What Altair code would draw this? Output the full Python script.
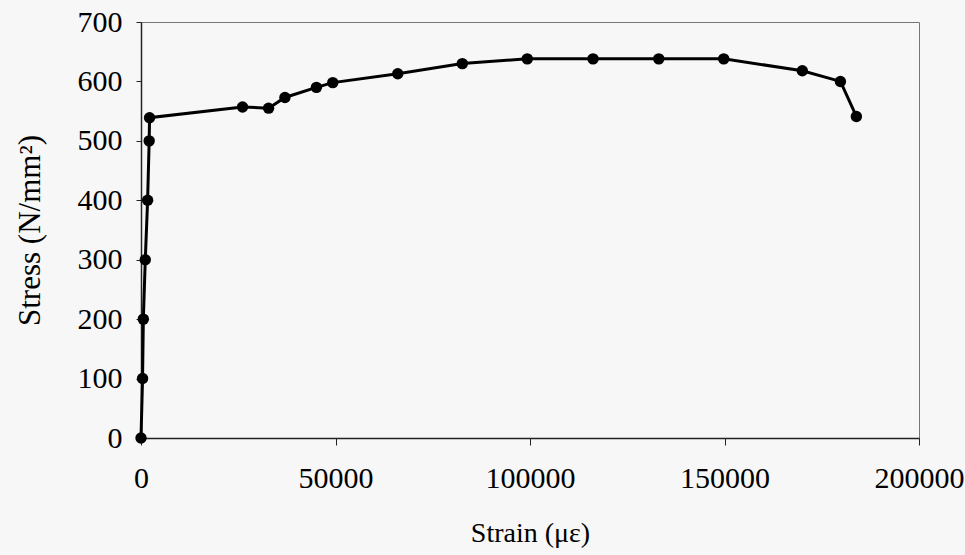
import altair as alt
import pandas as pd

strain = [0, 400, 600, 1100, 1700, 2100, 2200, 26100, 32800, 37000, 45100, 49300,
          66000, 82600, 99300, 116200, 133100, 149800, 170000, 179800, 183900]
stress = [0, 100, 200, 300, 400, 500, 539, 557, 555, 573, 590, 598,
          613, 630, 638, 638, 638, 638, 618, 600, 541]
x_ticks = [0, 50000, 100000, 150000, 200000]
y_ticks = [0, 100, 200, 300, 400, 500, 600, 700]

df = pd.DataFrame({"strain": strain, "stress": stress, "order": list(range(len(strain)))})

x_enc = alt.X("strain:Q", title="Strain (με)",
              scale=alt.Scale(domain=[0, 200000], nice=False, zero=True),
              axis=alt.Axis(values=x_ticks, format="d", grid=False, tickSize=7,
                            labelPadding=18, titlePadding=26, labelFontSize=30,
                            titleFontSize=28, labelFlush=False))
y_enc = alt.Y("stress:Q", title="Stress (N/mm²)",
              scale=alt.Scale(domain=[0, 700], nice=False),
              axis=alt.Axis(values=y_ticks, grid=False, tickSize=5,
                            labelPadding=14, titlePadding=31, labelFontSize=30,
                            titleFontSize=31))

line = alt.Chart(df).mark_line(color="black", strokeWidth=3).encode(
    x=x_enc, y=y_enc, order="order:Q")
pts = alt.Chart(df).mark_point(filled=True, color="black", size=130, opacity=1).encode(
    x=x_enc, y=y_enc)

chart = (line + pts).properties(
    width=778, height=416,
    autosize=alt.AutoSizeParams(type="none"),
    padding={"left": 141, "top": 22, "right": 46, "bottom": 117},
    background="#f7f7f7",
).configure_view(stroke="#777", strokeWidth=1).configure_axis(
    labelFont="Liberation Serif", titleFont="Liberation Serif",
    labelColor="black", titleColor="black", titleFontWeight="normal",
    domainColor="#222", tickColor="#222", domainWidth=1.5,
)

chart.save("out.html", embed_options={"renderer": "svg", "actions": False})
